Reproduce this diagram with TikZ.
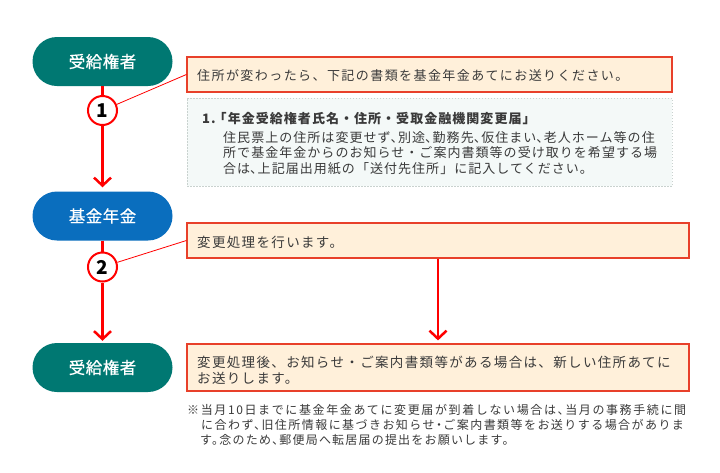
\documentclass[tikz,border=0pt]{standalone}
\usepackage{fontspec}
\setmainfont{Noto Sans CJK JP}
\newfontfamily\jpA[LetterSpace=11]{Noto Sans CJK JP}
\newfontfamily\jpB[LetterSpace=10]{Noto Sans CJK JP}
\newfontfamily\jpC[LetterSpace=8]{Noto Sans CJK JP}
\newfontfamily\jpNa[LetterSpace=13.5,RawFeature=+halt]{Noto Sans CJK JP}
\newfontfamily\jpNb[LetterSpace=12,RawFeature=+halt]{Noto Sans CJK JP}
\newfontfamily\jpNc[LetterSpace=10,RawFeature=+halt]{Noto Sans CJK JP}
\newfontfamily\jpP[LetterSpace=3,FakeBold=0.6]{Noto Sans CJK JP}
\newcommand\hcomma{\makebox[7.5pt][l]{、}}
\usetikzlibrary{arrows.meta}
\definecolor{tealpill}{HTML}{007872}
\definecolor{bluepill}{HTML}{0A6EBE}
\definecolor{boxfill}{HTML}{FFF0DA}
\definecolor{boxred}{HTML}{E8402A}
\definecolor{greyfill}{HTML}{F4F9F8}
\definecolor{greyline}{HTML}{C9D2CF}
\definecolor{txtgray}{HTML}{3A3A3A}
\definecolor{flowred}{HTML}{FF0000}
\begin{document}
\begin{tikzpicture}[x=1pt,y=-1pt,
  pill/.style={rounded corners=24.5pt, minimum width=140pt, minimum height=49pt,
    text=white, inner sep=0, font=\jpP\fontsize{16.5}{20}\selectfont},
  num/.style={circle, draw=flowred, line width=2pt, fill=white, minimum size=29pt,
    inner sep=0, font=\fontsize{19}{20}\selectfont\bfseries},
  msg/.style={draw=boxred, fill=boxfill, line width=1.2pt, inner sep=0},
  greybox/.style={draw=greyline, fill=greyfill, line width=0.8pt,
    dash pattern=on 1.5pt off 1.5pt, inner sep=0},
  flow/.style={draw=flowred, line width=2.5pt, -{Straight Barb[length=8pt,width=17pt]}},
  link/.style={draw=flowred, line width=2.5pt},
  callout/.style={draw=flowred, line width=0.8pt},
  txt/.style={inner sep=0, text=txtgray, anchor=base west, align=left}
]
\useasboundingbox[fill=white] (0,0) rectangle (720,472);

% left column
\node[pill, fill=tealpill] (p1) at (102.5,61.5) {受給権者};
\node[num] (c1) at (102.5,110.5) {1};
\node[pill, fill=bluepill] (p2) at (102.5,216) {基金年金};
\node[num] (c2) at (102.5,267) {2};
\node[pill, fill=tealpill] (p3) at (102.5,367.5) {受給権者};

% boxes
\node[msg, minimum width=485pt, minimum height=35pt] (b1) at (429.5,74.5) {};
\node[greybox, minimum width=485pt, minimum height=88pt] (g1) at (429.5,142) {};
\node[msg, minimum width=502pt, minimum height=35pt] (b2) at (438,240.5) {};
\node[msg, minimum width=502pt, minimum height=47pt] (b3) at (438,367.5) {};

% texts (base anchor of a multi-line node = baseline of its last line)
\node[txt, font=\jpA\fontsize{13}{16}\selectfont] (t1) at (197,80)
  {住所が変わったら、下記の書類を基金年金あてにお送りください。};
\node[txt, font=\jpC\fontsize{13}{16}\selectfont\bfseries] (t2) at (202,123)
  {1.\kern-2pt「年金受給権者氏名・住所・受取金融機関変更届」};
\node[txt, font=\jpC\fontsize{13}{15.5}\selectfont] (t3) at (223,173)
  {住民票上の住所は変更せず\hcomma 別途\hcomma 勤務先\hcomma 仮住まい\hcomma 老人ホーム等の住\\
   所で基金年金からのお知らせ・ご案内書類等の受け取りを希望する場\\
   合は\hcomma 上記届出用紙の「送付先住所」に記入してください。};
\node[txt, font=\jpB\fontsize{13.5}{16}\selectfont] (t4) at (197,247)
  {変更処理を行います。};
\node[txt, font=\jpB\fontsize{13.5}{16}\selectfont] (t5) at (197,383)
  {変更処理後、お知らせ・ご案内書類等がある場合は、新しい住所あてに\\
   お送りします。};
\node[txt, font=\fontsize{12}{14.8}\selectfont] (t6) at (187,444.5)
  {{\jpNa ※当月10日までに基金年金あてに変更届が到着しない場合は、当月の事務手続に間}\\
   \hspace*{14pt}{\jpNb に合わず、旧住所情報に基づきお知らせ・ご案内書類等をお送りする場合がありま}\\
   \hspace*{13pt}{\jpNc す。念のため、郵便局へ転居届の提出をお願いします。}};

% connectors
\draw[link] (p1) -- (c1);
\draw[flow, shorten >=4pt] (c1) -- (p2);
\draw[link] (p2) -- (c2);
\draw[flow, shorten >=2pt] (c2) -- (p3);
\draw[flow, shorten >=3pt] (b2) -- (b3);
\draw[callout] (c1) -- (b1.west);
\draw[callout] (c2) -- (b2.west);
\end{tikzpicture}
\end{document}
